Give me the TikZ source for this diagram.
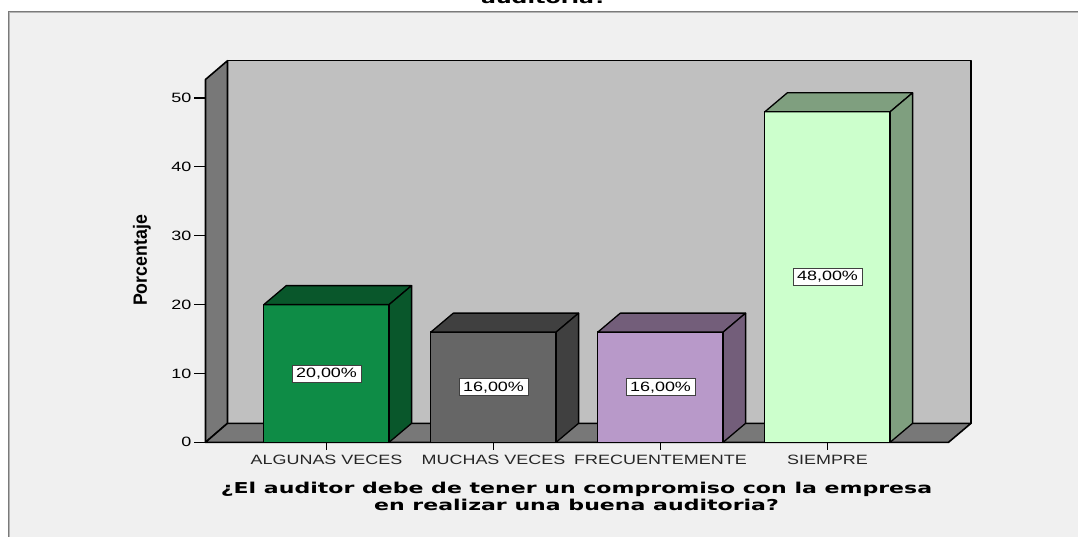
\documentclass[tikz,border=0pt]{standalone}
\usepackage{fontspec}
\setmainfont{Liberation Sans}
\newfontfamily\verdf{DejaVu Sans}
\definecolor{framebg}{HTML}{F0F0F0}
\definecolor{framelineA}{HTML}{7A7A7A}
\definecolor{framelineB}{HTML}{B4B4B4}
\definecolor{wallback}{HTML}{C0C0C0}
\definecolor{wallside}{HTML}{787878}
\definecolor{gAfront}{HTML}{0E8C46}
\definecolor{gAside}{HTML}{09572B}
\definecolor{gBfront}{HTML}{666666}
\definecolor{gBside}{HTML}{404040}
\definecolor{gCfront}{HTML}{B899C9}
\definecolor{gCside}{HTML}{735E7A}
\definecolor{gDfront}{HTML}{CCFFCC}
\definecolor{gDside}{HTML}{7F9F7F}
\newcommand\hs[1]{\scalebox{1.33}[1]{#1}}
\newcommand\hb[1]{\scalebox{1.47}[1]{#1}}
% bar: x0, value, front colour, side colour
\newcommand\mybar[4]{%
  \pgfmathsetmacro\yt{442.3-#2*6.885}%
  \pgfmathsetmacro\xa{#1+125.3}%
  \fill[#3] (#1,442.3) rectangle (\xa,\yt);
  \draw[barline] (#1,442.3) rectangle (\xa,\yt);
  \filldraw[barline,fill=#4] (#1,\yt) -- ++(22.5,-19) -- ++(125.3,0) -- (\xa,\yt) -- cycle;
  \filldraw[barline,fill=#4] (\xa,442.3) -- ++(22.5,-19) -- (\xa+22.5,\yt-19) -- (\xa,\yt) -- cycle;
}
\begin{document}
\begin{tikzpicture}[x=1pt,y=-1pt,
  barline/.style={draw=black,line width=1.3pt,line join=round},
  wallline/.style={draw=black,line width=1.6pt,line join=round},
  lbl/.style={inner sep=0pt,font=\fontsize{13.5}{15}\selectfont},
  ttl/.style={inner sep=0pt,font=\verdf\bfseries\fontsize{15}{17}\selectfont},
  valbox/.style={draw=black!75,fill=white,line width=0.9pt,inner xsep=4pt,inner ysep=0pt,minimum height=17pt,font=\fontsize{13.5}{15}\selectfont}]
\useasboundingbox (0,0) rectangle (1078,537);
\clip (0,0) rectangle (1078,537);
% outer frame
\fill[framebg] (8.3,11.2) rectangle (1100,560);
\draw[framelineA,line width=1.2pt] (8.3,560) -- (8.3,11.2) -- (1100,11.2);
\draw[framelineB,line width=0.8pt] (9.6,560) -- (9.6,12.5) -- (1100,12.5);
% chart title (cut off)
\node[ttl,anchor=base] (title) at (544,3.6) {\hb{auditoria?}};
% walls
\filldraw[wallline,fill=wallback] (227.5,60.7) rectangle (971,423.3);
\filldraw[wallline,fill=wallside] (205.5,442.3) -- (205.5,79.5) -- (227.5,60.7) -- (227.5,423.3) -- cycle;
\filldraw[wallline,fill=wallside] (205.5,442.3) -- (948.5,442.3) -- (971,423.3) -- (227.5,423.3) -- cycle;
% y ticks
\foreach \v in {0,10,20,30,40,50}{
  \draw[black,line width=1.2pt] (194,{442.3-\v*6.885}) -- (205.5,{442.3-\v*6.885});
  \node[lbl,anchor=east] (t\v) at (191.5,{442.3-\v*6.885}) {\hs{\v}};
}
% bars
\mybar{263.8}{20}{gAfront}{gAside}
\mybar{430.8}{16}{gBfront}{gBside}
\mybar{597.8}{16}{gCfront}{gCside}
\mybar{764.8}{48}{gDfront}{gDside}
% value labels
\node[valbox] (v1) at (326.5,{442.3-10*6.885}) {\hs{20,00\%}};
\node[valbox] (v2) at (493.5,{442.3-8*6.885}) {\hs{16,00\%}};
\node[valbox] (v3) at (660.5,{442.3-8*6.885}) {\hs{16,00\%}};
\node[valbox] (v4) at (827.5,{442.3-24*6.885}) {\hs{48,00\%}};
% category ticks and labels
\foreach \cx/\nm/\txt in {326.5/c1/ALGUNAS VECES,493.5/c2/MUCHAS VECES,660.5/c3/FRECUENTEMENTE,827.5/c4/SIEMPRE}{
  \draw[black,line width=1.2pt] (\cx,442.3) -- (\cx,450);
  \node[lbl,anchor=base,text=black!85] (\nm) at (\cx,464.2) {\hs{\txt}};
}
% axis titles
\node[inner sep=0pt,rotate=90,font=\bfseries\fontsize{16}{18}\selectfont] (ylab) at (142,260.5) {\scalebox{1.11}[1.2]{Porcentaje}};
\node[ttl,anchor=base] (xl1) at (576.5,493.3) {\hb{¿El auditor debe de tener un compromiso con la empresa}};
\node[ttl,anchor=base] (xl2) at (576.5,510.7) {\hb{en realizar una buena auditoria?}};
\end{tikzpicture}
\end{document}
